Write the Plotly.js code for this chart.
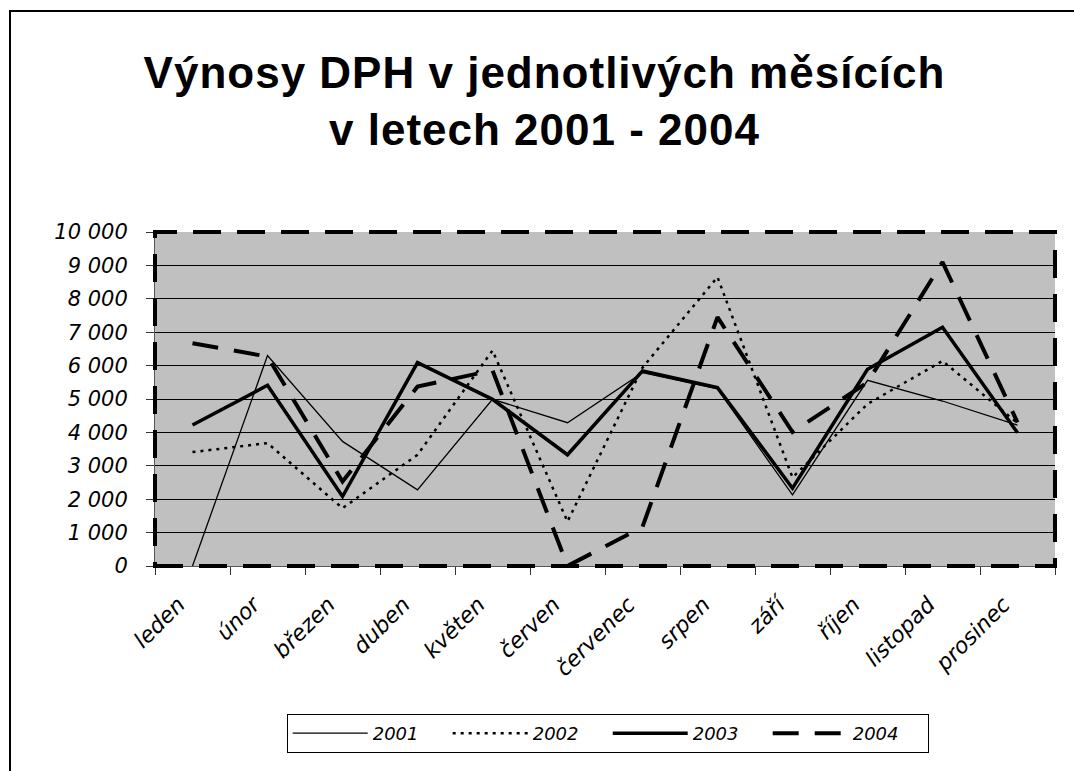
<!DOCTYPE html>
<html>
<head>
<meta charset="utf-8">
<script src="https://cdn.plot.ly/plotly-3.0.1.min.js"></script>
<style>
  body { margin: 0; background: #fff; }
  #chart { position: absolute; left: 0; top: 0; width: 1074px; height: 771px; }
  #frame { position: absolute; left: 9px; top: 10px; width: 1080px; height: 780px;
           border-left: 2px solid #000; border-top: 2px solid #000; pointer-events: none; }
  #chart .gtitle { letter-spacing: 1px; }
</style>
</head>
<body>
<div id="chart"></div>
<div id="frame"></div>
<script>
const months = ["leden", "únor", "březen", "duben", "květen", "červen",
  "červenec", "srpen", "září", "říjen", "listopad", "prosinec"];
const y2001 = [0, 6300, 3730, 2280, 4990, 4290, 5790, 5300, 2130, 5560, 4940, 4220];
const y2002 = [3410, 3680, 1730, 3330, 6450, 1330, 5940, 8650, 2650, 4850, 6140, 4280];
const y2003 = [4220, 5410, 2080, 6090, 4990, 3330, 5840, 5340, 2330, 5890, 7150, 3990];
const y2004 = [6670, 6270, 2530, 5370, 5860, 0, 1170, 7450, 4010, 5500, 9100, 4300];

const font = "DejaVu Sans, sans-serif";

const series = [
  { name: "2001", y: y2001, line: { color: "#000", width: 1.3 } },
  { name: "2002", y: y2002, line: { color: "#000", width: 2.5, dash: "3px,5px" } },
  { name: "2003", y: y2003, line: { color: "#000", width: 3.5 } },
  { name: "2004", y: y2004, line: { color: "#000", width: 4, dash: "26px,16px" } },
];

const traces = series.map(s => ({
  type: "scatter",
  mode: "lines",
  x: months,
  y: s.y,
  name: s.name,
  line: s.line,
  cliponaxis: false,
}));

Plotly.newPlot("chart", traces, {
  width: 1074,
  height: 771,
  margin: { l: 155, r: 19, t: 232, b: 205, autoexpand: false },
  paper_bgcolor: "#fff",
  plot_bgcolor: "#c0c0c0",
  separators: ", ",
  title: {
    text: "Výnosy DPH v jednotlivých měsících<br>v letech 2001 - 2004",
    font: { family: "Liberation Sans, Arial, sans-serif", size: 44, color: "#000", weight: "bold" },
    xref: "container",
    x: 0.507,
    xanchor: "center",
    yref: "container",
    y: 0.886,
    yanchor: "top",
  },
  xaxis: {
    type: "category",
    range: [-0.5, 11.5],
    tickson: "boundaries",
    ticks: "outside",
    ticklen: 8,
    tickcolor: "#333",
    showgrid: false,
    showline: true,
    linecolor: "#555",
    tickangle: -45,
    ticklabelstandoff: 16,
    ticklabelshift: -14,
    automargin: false,
    tickfont: { family: font, size: 22, color: "#000", style: "italic" },
  },
  yaxis: {
    range: [0, 10000],
    dtick: 1000,
    tickformat: ",d",
    ticks: "outside",
    ticklen: 8,
    tickcolor: "#333",
    ticklabelstandoff: 14,
    showline: true,
    linecolor: "#555",
    gridcolor: "#000",
    gridwidth: 1,
    zeroline: false,
    automargin: false,
    tickfont: { family: font, size: 21, color: "#000", style: "italic" },
  },
  shapes: [{
    type: "rect",
    xref: "paper", yref: "paper",
    x0: 0, x1: 1, y0: 0, y1: 1,
    line: { color: "#000", width: 4, dash: "28px,16px" },
  }],
  showlegend: true,
  legend: {
    orientation: "h",
    x: 0.503,
    xanchor: "center",
    y: -0.443,
    yanchor: "top",
    bgcolor: "#fff",
    bordercolor: "#000",
    borderwidth: 1,
    itemwidth: 75,
    entrywidth: 70,
    font: { family: font, size: 18, color: "#000", style: "italic" },
  },
}, { displayModeBar: false });
</script>
</body>
</html>
